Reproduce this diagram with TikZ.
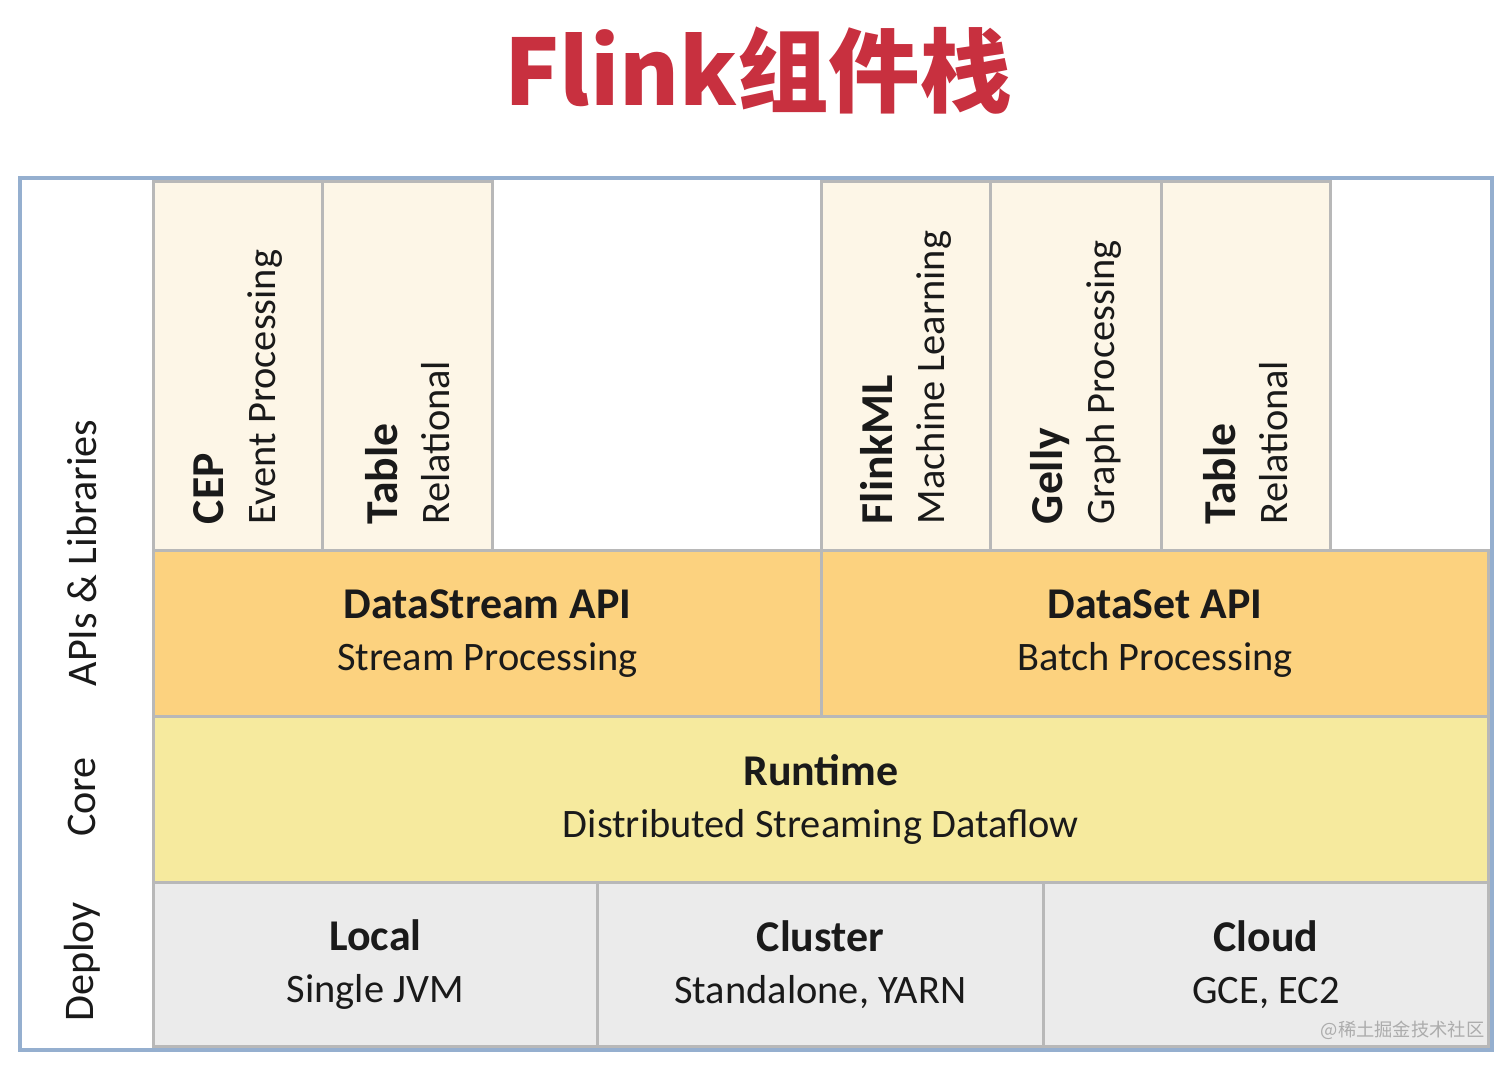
\documentclass[tikz,border=0pt]{standalone}
\usepackage{fontspec}
\setmainfont{Carlito}
\newfontfamily\titlefont{Noto Sans CJK SC}
\definecolor{titlered}{HTML}{C8303F}
\definecolor{framecol}{HTML}{95AFCF}
\definecolor{boxline}{HTML}{B8B8B8}
\definecolor{libfill}{HTML}{FDF6E7}
\definecolor{apifill}{HTML}{FCD27F}
\definecolor{corefill}{HTML}{F6EA9E}
\definecolor{deployfill}{HTML}{EBEBEB}
\definecolor{textcol}{HTML}{1A1A1A}
\newcommand{\hd}[1]{{\fontsize{12.5}{15}\selectfont\bfseries #1}}
\newcommand{\libhd}[1]{{\fontsize{13}{15}\selectfont\bfseries #1}}
\tikzset{
  box/.style={draw=boxline, line width=0.8pt, anchor=north west, inner sep=0pt, align=center, text=textcol},
  lib/.style={box, fill=libfill, minimum height=3.69cm},
  lay/.style={box, minimum height=1.66cm, font=\fontsize{11.5}{14.8}\selectfont,
    execute at begin node={\rule{0pt}{16pt}}},
  libtext/.style={rotate=90, anchor=west, inner sep=0pt, align=left, text=textcol, font=\fontsize{11.5}{14.8}\selectfont},
  side/.style={rotate=90, inner sep=0pt, text=textcol, font=\fontsize{12}{14}\selectfont}
}
\begin{document}
\begin{tikzpicture}
    \useasboundingbox (0,0) rectangle (15.12,-10.69);
    \node[text=titlered, font=\titlefont\bfseries\fontsize{26}{30}\selectfont] (title) at (7.58,-0.71) {Flink组件栈};
    \draw[framecol, line width=1.2pt] (0.20,-1.78) rectangle (14.92,-10.50);
    % libraries
    \node[lib, minimum width=1.69cm] (cep) at (1.52,-1.80) {};
    \node[lib, minimum width=1.70cm] (tableA) at (3.21,-1.80) {};
    \node[lib, minimum width=1.69cm] (flinkml) at (8.20,-1.80) {};
    \node[lib, minimum width=1.71cm] (gelly) at (9.89,-1.80) {};
    \node[lib, minimum width=1.69cm] (tableB) at (11.60,-1.80) {};
    \node[libtext] (cepText) at ([yshift=0.27cm]cep.south) {\libhd{CEP}\\Event Processing};
    \node[libtext] (tableAText) at ([yshift=0.27cm]tableA.south) {\libhd{Table}\\Relational};
    \node[libtext] (flinkmlText) at ([yshift=0.27cm]flinkml.south) {\libhd{FlinkML}\\Machine Learning};
    \node[libtext] (gellyText) at ([yshift=0.27cm]gelly.south) {\libhd{Gelly}\\Graph Processing};
    \node[libtext] (tableBText) at ([yshift=0.27cm]tableB.south) {\libhd{Table}\\Relational};
    % apis, core, deploy
    \node[lay, fill=apifill, minimum width=6.68cm] (datastream) at (1.52,-5.49) {\hd{DataStream API}\\Stream Processing};
    \node[lay, fill=apifill, minimum width=6.67cm] (dataset) at (8.20,-5.49) {\hd{DataSet API}\\Batch Processing};
    \node[lay, fill=corefill, minimum width=13.35cm] (runtime) at (1.52,-7.15) {\hd{Runtime}\\Distributed Streaming Dataflow};
    \node[lay, fill=deployfill, minimum width=4.44cm, minimum height=1.64cm] (local) at (1.52,-8.81) {\hd{Local}\\Single JVM};
    \node[lay, fill=deployfill, minimum width=4.46cm, minimum height=1.64cm] (cluster) at (5.96,-8.81) {\hd{Cluster}\\Standalone, YARN};
    \node[lay, fill=deployfill, minimum width=4.45cm, minimum height=1.64cm] (cloud) at (10.42,-8.81) {\hd{Cloud}\\GCE, EC2};
    % side labels
    \node[side] (apis) at (0.82,-5.53) {APIs \& Libraries};
    \node[side] (core) at (0.82,-7.97) {Core};
    \node[side] (deploy) at (0.82,-9.62) {Deploy};
    \node[anchor=east, inner sep=0pt, text=gray!65, font=\titlefont\fontsize{5.2}{6}\selectfont] (mark) at (14.85,-10.30) {@稀土掘金技术社区};
\end{tikzpicture}
\end{document}
